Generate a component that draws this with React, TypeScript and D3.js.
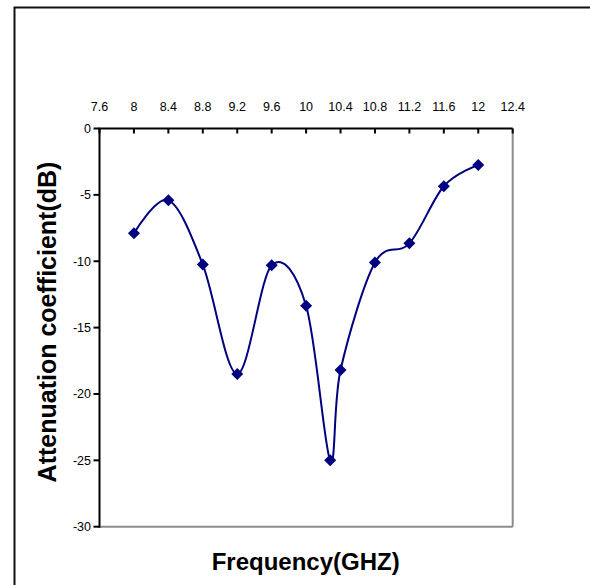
import React from "react";
import * as d3 from "d3";

const frequencies = [8, 8.4, 8.8, 9.2, 9.6, 10, 10.28, 10.4, 10.8, 11.2, 11.6, 12];
const attenuation = [-7.9, -5.4, -10.25, -18.5, -10.3, -13.35, -25.0, -18.2, -10.1, -8.65, -4.35, -2.75];
const xTicks = [7.6, 8, 8.4, 8.8, 9.2, 9.6, 10, 10.4, 10.8, 11.2, 11.6, 12, 12.4];
const yTicks = [0, -5, -10, -15, -20, -25, -30];
const xTitle = "Frequency(GHZ)";
const yTitle = "Attenuation coefficient(dB)";

const W = 590;
const H = 585;
const left = 99.5;
const right = 512.7;
const top = 128.5;
const bottom = 526.7;

export default function App() {
  const x = d3.scaleLinear().domain([7.6, 12.4]).range([left, right]);
  const y = d3.scaleLinear().domain([0, -30]).range([top, bottom]);
  const data = frequencies.map((f, i) => [f, attenuation[i]] as [number, number]);
  const line = d3
    .line<[number, number]>()
    .x((d) => x(d[0]))
    .y((d) => y(d[1]))
    .curve(d3.curveCardinal.tension(0));
  const diamond = (cx: number, cy: number, r: number) =>
    `M${cx},${cy - r}L${cx + r},${cy}L${cx},${cy + r}L${cx - r},${cy}Z`;
  const font = "Arial, 'Liberation Sans', sans-serif";

  return (
    <svg
      width={W}
      height={H}
      style={{ position: "absolute", left: 0, top: 0, background: "#fff" }}
      fontFamily={font}
    >
      <rect x={0} y={0} width={W} height={H} fill="#fff" />
      <rect x={14.5} y={7.5} width={700} height={700} fill="none" stroke="#111" strokeWidth={2} />
      <line x1={right} y1={top} x2={right} y2={bottom} stroke="#8c8c8c" strokeWidth={2} />
      <line x1={left} y1={bottom} x2={right} y2={bottom} stroke="#8c8c8c" strokeWidth={2} />
      <line x1={left} y1={top} x2={left} y2={bottom + 1} stroke="#000" strokeWidth={2} />
      <line x1={left - 1} y1={top} x2={right} y2={top} stroke="#000" strokeWidth={2} />
      {xTicks.map((t) => (
        <g key={"x" + t}>
          <line x1={x(t)} y1={top} x2={x(t)} y2={top + 5} stroke="#000" strokeWidth={2} />
          <text x={x(t)} y={111} fontSize={12.5} textAnchor="middle" fill="#000">
            {t}
          </text>
        </g>
      ))}
      {yTicks.map((t) => (
        <g key={"y" + t}>
          <line x1={left - 6} y1={y(t)} x2={left} y2={y(t)} stroke="#000" strokeWidth={2} />
          <text x={91} y={y(t) + 4.5} fontSize={12.5} textAnchor="end" fill="#000">
            {t}
          </text>
        </g>
      ))}
      <path d={line(data) || ""} fill="none" stroke="#000080" strokeWidth={2} />
      {data.map((d, i) => (
        <path key={i} d={diamond(x(d[0]), y(d[1]), 6)} fill="#000080" />
      ))}
      <text x={305.7} y={570} fontSize={24} fontWeight="bold" textAnchor="middle" fill="#000">
        {xTitle}
      </text>
      <text
        transform={`translate(56,322) rotate(-90)`}
        fontSize={25}
        fontWeight="bold"
        textAnchor="middle"
        fill="#000"
      >
        {yTitle}
      </text>
    </svg>
  );
}
